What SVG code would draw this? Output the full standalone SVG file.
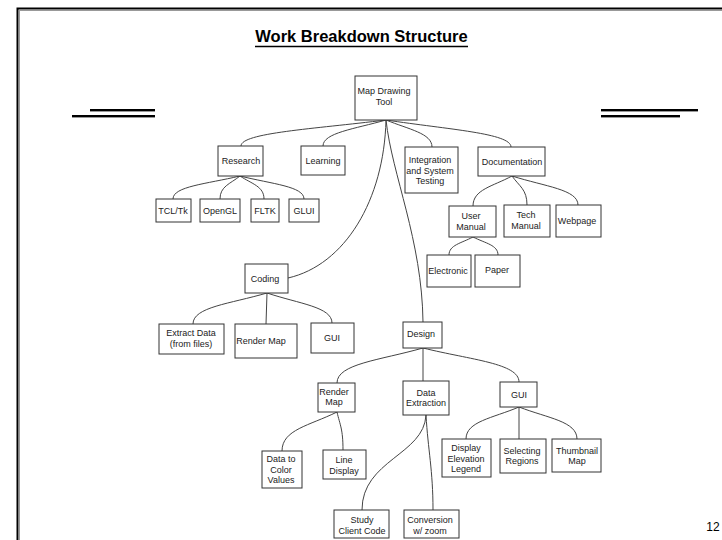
<svg xmlns="http://www.w3.org/2000/svg" width="722" height="540" viewBox="0 0 722 540">
<style>
.b{fill:#fff;stroke:#333;stroke-width:1}
.t{font-family:"Liberation Sans",Arial,sans-serif;font-size:9px;fill:#222;text-anchor:middle}
.c{fill:none;stroke:#444;stroke-width:1}
.rule{stroke:#000;stroke-width:2;fill:none}
.sh{stroke:#999;stroke-width:1;fill:none}
</style>
<rect width="722" height="540" fill="#fff"/>
<g id="frame">
<path class="sh" d="M19,10.5 H722 M19.5,10 V540"/>
<path class="rule" d="M17.5,540 V8.5 H722"/>
<path class="sh" d="M90,111.5 H155 M72,117.5 H155 M601,111.5 H698 M601,117.5 H680"/>
<path class="rule" d="M90,110 H155 M72,116 H155 M601,110 H698 M601,116 H680"/>
</g>
<g id="title">
<text x="361.5" y="42" font-family="Liberation Sans,Arial,sans-serif" font-size="16.5" font-weight="bold" text-anchor="middle" fill="#000">Work Breakdown Structure</text>
<line x1="255" y1="46.5" x2="468" y2="46.5" stroke="#000" stroke-width="1.6"/>
</g>
<text x="713" y="531" font-family="Liberation Sans,Arial,sans-serif" font-size="12" text-anchor="middle" fill="#000">12</text>
<g id="connectors">
<path class="c" d="M386,120 C313.5,129 241,132.8 241,146"/>
<path class="c" d="M386,120 C354.5,129 323,132.8 323,146"/>
<path class="c" d="M386,120 C409,129.5 432,133.25 432,147"/>
<path class="c" d="M386,120 C448.5,129.5 511,133.25 511,147"/>
<path class="c" d="M386,120 C384,200 345,265 288,278"/>
<path class="c" d="M386,120 C392,175 422,240 423,322"/>
<path class="c" d="M240,176 C206.5,184 173,186.35 173,199"/>
<path class="c" d="M240,176 C230,184 220,186.35 220,199"/>
<path class="c" d="M240,176 C252,184 264,186.35 264,199"/>
<path class="c" d="M240,176 C272,184 304,186.35 304,199"/>
<path class="c" d="M512,176 C492.5,186.5 473,189.5 473,206"/>
<path class="c" d="M512,176 C519.5,186.5 527,189.5 527,205"/>
<path class="c" d="M512,176 C545,186.5 578,189.5 578,205"/>
<path class="c" d="M473,237 C461,243.3 449,245.1 449,255"/>
<path class="c" d="M473,237 C485.5,243.3 498,245.1 498,255"/>
<path class="c" d="M267,293 C230,303.85 193,306.95 193,324"/>
<path class="c" d="M267,293 L266,324"/>
<path class="c" d="M267,293 C299.5,303.85 332,306.95 332,323"/>
<path class="c" d="M423,348 C380,360.25 337,363.75 337,383"/>
<path class="c" d="M423,348 L423,381"/>
<path class="c" d="M423,348 C471,359.9 519,363.3 519,382"/>
<path class="c" d="M337,412 C309.5,425.65 282,429.55 282,451"/>
<path class="c" d="M337,412 C340,425 343,429 343,450"/>
<path class="c" d="M426,415 C424,455 362,460 362,510"/>
<path class="c" d="M426,415 C428,450 433,470 433,510"/>
<path class="c" d="M519,407 C492.5,418.2 466,421.4 466,439"/>
<path class="c" d="M519,407 L519,439"/>
<path class="c" d="M519,407 C548,418.2 577,421.4 577,439"/>
</g>
<g id="root"><rect class="b" x="355" y="76" width="62" height="44"/><text class="t" x="384" y="94">Map Drawing</text><text class="t" x="384" y="105">Tool</text></g>
<g id="research"><rect class="b" x="218" y="146" width="45" height="30"/><text class="t" x="241" y="164">Research</text></g>
<g id="learning"><rect class="b" x="301" y="146" width="44" height="29"/><text class="t" x="323" y="164">Learning</text></g>
<g id="integration"><rect class="b" x="405" y="147" width="53" height="46"/><text class="t" x="430" y="163">Integration</text><text class="t" x="430" y="174">and System</text><text class="t" x="430" y="184">Testing</text></g>
<g id="documentation"><rect class="b" x="478" y="147" width="67" height="29"/><text class="t" x="512" y="165">Documentation</text></g>
<g id="tcltk"><rect class="b" x="156" y="199" width="35" height="23"/><text class="t" x="173" y="214">TCL/Tk</text></g>
<g id="opengl"><rect class="b" x="200" y="199" width="40" height="23"/><text class="t" x="220" y="214">OpenGL</text></g>
<g id="fltk"><rect class="b" x="251" y="199" width="28" height="23"/><text class="t" x="265" y="214">FLTK</text></g>
<g id="glui"><rect class="b" x="289" y="199" width="30" height="23"/><text class="t" x="304" y="214">GLUI</text></g>
<g id="usermanual"><rect class="b" x="449" y="206" width="47" height="31"/><text class="t" x="471" y="219">User</text><text class="t" x="471" y="230">Manual</text></g>
<g id="techmanual"><rect class="b" x="504" y="205" width="46" height="32"/><text class="t" x="526" y="218">Tech</text><text class="t" x="526" y="229">Manual</text></g>
<g id="webpage"><rect class="b" x="556" y="205" width="45" height="32"/><text class="t" x="577" y="224">Webpage</text></g>
<g id="electronic"><rect class="b" x="427" y="255" width="44" height="32"/><text class="t" x="448" y="274">Electronic</text></g>
<g id="paper"><rect class="b" x="475" y="255" width="45" height="32"/><text class="t" x="497" y="273">Paper</text></g>
<g id="coding"><rect class="b" x="245" y="264" width="43" height="29"/><text class="t" x="265" y="282">Coding</text></g>
<g id="extractdata"><rect class="b" x="159" y="324" width="65" height="30"/><text class="t" x="191" y="336">Extract Data</text><text class="t" x="191" y="347">(from files)</text></g>
<g id="rendermap"><rect class="b" x="235" y="324" width="62" height="34"/><text class="t" x="261" y="344">Render Map</text></g>
<g id="gui"><rect class="b" x="311" y="323" width="43" height="30"/><text class="t" x="332" y="341">GUI</text></g>
<g id="design"><rect class="b" x="403" y="322" width="39" height="26"/><text class="t" x="421" y="337">Design</text></g>
<g id="rendermap2"><rect class="b" x="318" y="383" width="37" height="29"/><text class="t" x="334" y="395">Render</text><text class="t" x="334" y="405">Map</text></g>
<g id="dataextraction"><rect class="b" x="403" y="381" width="46" height="34"/><text class="t" x="426" y="396">Data</text><text class="t" x="426" y="406">Extraction</text></g>
<g id="gui2"><rect class="b" x="500" y="382" width="37" height="25"/><text class="t" x="519" y="398">GUI</text></g>
<g id="datatocolor"><rect class="b" x="262" y="451" width="40" height="37"/><text class="t" x="281" y="462">Data to</text><text class="t" x="281" y="473">Color</text><text class="t" x="281" y="483">Values</text></g>
<g id="linedisplay"><rect class="b" x="323" y="450" width="43" height="29"/><text class="t" x="344" y="463">Line</text><text class="t" x="344" y="474">Display</text></g>
<g id="studyclient"><rect class="b" x="334" y="510" width="55" height="28"/><text class="t" x="362" y="523">Study</text><text class="t" x="362" y="534">Client Code</text></g>
<g id="conversion"><rect class="b" x="404" y="510" width="55" height="28"/><text class="t" x="430" y="523">Conversion</text><text class="t" x="430" y="534">w/ zoom</text></g>
<g id="displayelevation"><rect class="b" x="442" y="439" width="49" height="38"/><text class="t" x="466" y="451">Display</text><text class="t" x="466" y="462">Elevation</text><text class="t" x="466" y="472">Legend</text></g>
<g id="selecting"><rect class="b" x="500" y="439" width="46" height="34"/><text class="t" x="522" y="454">Selecting</text><text class="t" x="522" y="464">Regions</text></g>
<g id="thumbnail"><rect class="b" x="552" y="439" width="49" height="33"/><text class="t" x="577" y="454">Thumbnail</text><text class="t" x="577" y="464">Map</text></g>
</svg>
